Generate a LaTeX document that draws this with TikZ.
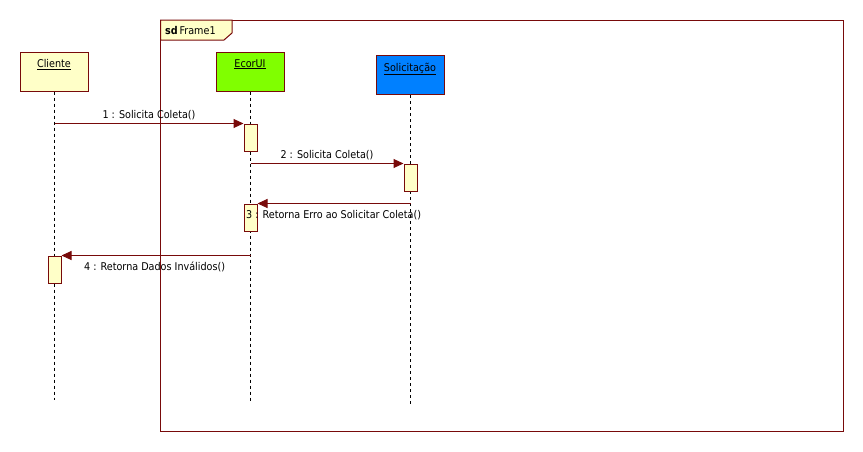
\documentclass[tikz,border=0pt]{standalone}
\usepackage{fontspec}
\setmainfont{DejaVu Sans Condensed}
\usetikzlibrary{arrows.meta,calc}
\definecolor{lnred}{RGB}{120,10,10}
\definecolor{lyellow}{RGB}{255,255,200}
\definecolor{lgreen}{RGB}{128,255,0}
\definecolor{lblue}{RGB}{0,128,255}
\tikzset{
  objbox/.style={draw=lnred, line width=1pt, minimum width=68pt, minimum height=39pt, inner sep=0pt},
  objtext/.style={font=\fontsize{10.7}{12}\selectfont, inner sep=0pt, anchor=north},
  actbox/.style={draw=lnred, line width=1pt, fill=lyellow, minimum width=13pt, minimum height=27pt, inner sep=0pt},
  lifeline/.style={draw=black, line width=1pt, dash pattern=on 3pt off 3pt},
  msg/.style={draw=lnred, line width=1pt, -{Triangle[length=10pt,width=9pt]}},
  msglabel/.style={font=\fontsize{10.7}{12}\selectfont, inner sep=0pt, text=black}
}
\begin{document}
\begin{tikzpicture}[x=1pt,y=-1pt]
\useasboundingbox (0,0) rectangle (863,451);
% frame
\draw[lnred, line width=1pt] (160.5,20) rectangle (843,431);
\filldraw[draw=lnred, fill=lyellow, line width=1pt] (160.5,20) -- (232,20) -- (232,33) -- (224,40) -- (160.5,40) -- cycle;
\node[msglabel, anchor=west] (frlabel) at (165,30.5) {\textbf{sd}\,Frame1};
% objects
\node[objbox, fill=lyellow] (cli) at (54,71.5) {};
\node[objtext] (clit) at ([yshift=-7.5pt]cli.north) {\underline{Cliente}};
\node[objbox, fill=lgreen] (ecor) at (250,71.5) {};
\node[objtext] (ecort) at ([yshift=-7.5pt]ecor.north) {\underline{EcorUI}};
\node[objbox, fill=lblue] (sol) at (410,75) {};
\node[objtext] (solt) at ([yshift=-7.5pt]sol.north) {\underline{Solicitação}};
% lifeline ends
\coordinate (cliend) at (54.5,400);
\coordinate (ecorend) at (250.5,402);
\coordinate (solend) at (410.5,405);
\draw[lifeline] (cli.south -| cliend) -- (cliend);
\draw[lifeline] (ecor.south -| ecorend) -- (ecorend);
\draw[lifeline] (sol.south -| solend) -- (solend);
% activations
\node[actbox] (act1) at (250.5,137.5) {};
\node[actbox] (act2) at (410.5,177.5) {};
\node[actbox] (act3) at (250.5,217.5) {};
\node[actbox] (act4) at (54.5,269.5) {};
% messages
\draw[msg] (act1.north west -| cliend) -- (act1.north west);
\draw[msg] (act2.north west -| ecorend) -- (act2.north west);
\draw[msg] (act3.north east -| solend) -- (act3.north east);
\draw[msg] (act4.north east -| ecorend) -- (act4.north east);
% labels
\node[msglabel] (l1) at (149,115) {1 : Solicita Coleta()};
\node[msglabel] (l2) at (327,155) {2 : Solicita Coleta()};
\node[msglabel, anchor=west] (l3) at (246,215) {3 : Retorna Erro ao Solicitar Coleta()};
\node[msglabel, anchor=west] (l4) at (84,267) {4 : Retorna Dados Inválidos()};
\end{tikzpicture}
\end{document}
